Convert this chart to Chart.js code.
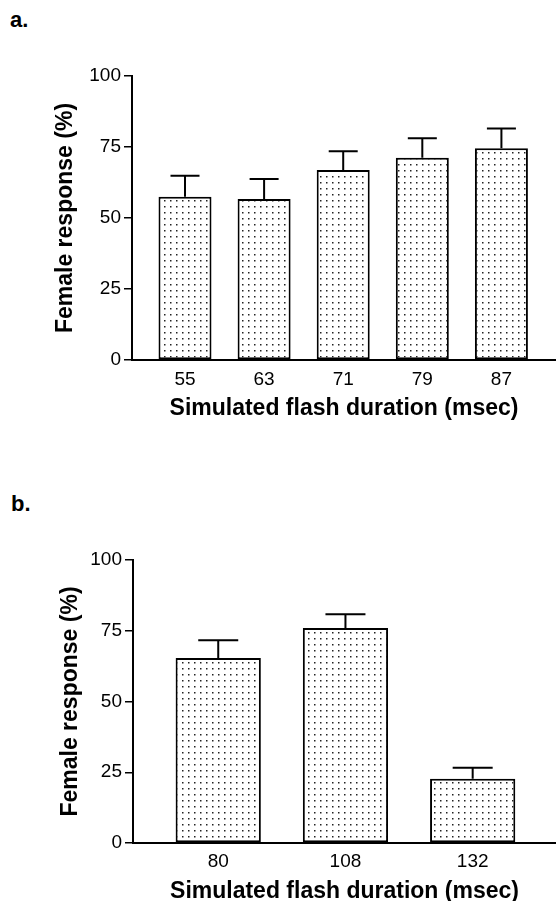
<!DOCTYPE html>
<html>
<head>
<meta charset="utf-8">
<script src="https://cdn.jsdelivr.net/npm/chart.js@4.4.0/dist/chart.umd.min.js"></script>
<style>
  body { margin: 0; background: #fff; font-family: "Liberation Sans", Arial, sans-serif; }
  .panel { position: absolute; left: 0; }
  .tag { position: absolute; font-weight: bold; font-size: 22px; line-height: 22px; color: #000; }
</style>
</head>
<body>
<div class="tag" style="left:10px; top:9px;">a.</div>
<div class="tag" style="left:11px; top:493px;">b.</div>
<canvas id="chartA" class="panel" width="556" height="450" style="top:0"></canvas>
<canvas id="chartB" class="panel" width="556" height="451" style="top:450px"></canvas>
<script>
// panel a
const durationsA = ['55', '63', '71', '79', '87'];
const responseA = [57.5, 56.7, 66.9, 71.2, 74.6];
const semA = [7.4, 7.0, 6.6, 6.9, 6.9];

// panel b
const durationsB = ['80', '108', '132'];
const responseB = [65.4, 76.0, 22.7];
const semB = [6.2, 4.8, 3.9];

const yTicks = [0, 25, 50, 75, 100];

Chart.defaults.font.family = '"Liberation Sans", Arial, Helvetica, sans-serif';
Chart.defaults.color = '#000';

// stippled fill like the printed figure
function dotPattern() {
    const c = document.createElement('canvas');
    c.width = 6;
    c.height = 6;
    const g = c.getContext('2d');
    g.fillStyle = '#fff';
    g.fillRect(0, 0, 6, 6);
    g.fillStyle = '#222';
    g.fillRect(2, 2, 1.5, 1.5);
    return g.createPattern(c, 'repeat');
}

// upper error bars only, drawn over the bars
const errorBars = {
    id: 'errorBars',
    afterDatasetsDraw(chart, args, opts) {
        const { ctx, scales: { x, y } } = chart;
        ctx.save();
        ctx.strokeStyle = '#000';
        ctx.lineWidth = 2;
        chart.data.datasets[0].data.forEach((pt, i) => {
            const px = x.getPixelForValue(pt.x);
            const y0 = y.getPixelForValue(pt.y);
            const y1 = y.getPixelForValue(pt.y + opts.errors[i]);
            ctx.beginPath();
            ctx.moveTo(px, y0);
            ctx.lineTo(px, y1);
            ctx.moveTo(px - opts.cap / 2, y1);
            ctx.lineTo(px + opts.cap / 2, y1);
            ctx.stroke();
        });
        ctx.restore();
    }
};

function makeChart(id, labels, values, errors, cfg) {
    const ctx = document.getElementById(id).getContext('2d');
    return new Chart(ctx, {
        type: 'bar',
        data: {
            datasets: [{
                data: values.map((v, i) => ({ x: i, y: v })),
                backgroundColor: dotPattern(),
                borderColor: '#000',
                borderWidth: 2,
                borderSkipped: false,
                categoryPercentage: 1,
                barPercentage: 0.67
            }]
        },
        plugins: [errorBars],
        options: {
            responsive: false,
            animation: false,
            devicePixelRatio: 1,
            layout: { padding: cfg.padding },
            plugins: {
                legend: { display: false },
                tooltip: { enabled: false },
                errorBars: { errors: errors, cap: cfg.cap }
            },
            scales: {
                x: {
                    type: 'linear',
                    offset: false,
                    min: -0.67,
                    max: cfg.xMax,
                    grid: { display: false, drawTicks: false },
                    border: { display: true, color: '#000', width: 2 },
                    afterBuildTicks: s => { s.ticks = labels.map((_, i) => ({ value: i })); },
                    afterFit: s => { s.height = cfg.xHeight; },
                    ticks: {
                        padding: cfg.xTickPad,
                        font: { size: 19 },
                        callback: v => labels[v]
                    },
                    title: {
                        display: true,
                        text: 'Simulated flash duration (msec)',
                        font: { size: 23, weight: 'bold' },
                        padding: { top: 0, bottom: cfg.xTitlePad }
                    }
                },
                y: {
                    min: 0,
                    max: 100,
                    afterBuildTicks: s => { s.ticks = yTicks.map(v => ({ value: v })); },
                    afterFit: s => { s.width = cfg.yWidth; },
                    grid: {
                        drawOnChartArea: false,
                        drawTicks: true,
                        tickLength: 8,
                        color: '#000',
                        lineWidth: 1.5
                    },
                    border: { display: true, color: '#000', width: 2 },
                    ticks: { padding: 3, font: { size: 19 } },
                    title: {
                        display: true,
                        text: 'Female response (%)',
                        font: { size: 23, weight: 'bold' },
                        padding: 0
                    }
                }
            }
        }
    });
}

makeChart('chartA', durationsA, responseA, semA, {
    padding: { top: 76, left: 52, right: 0, bottom: 28 },
    yWidth: 80, xHeight: 62, xMax: 4.69, xTickPad: 8, xTitlePad: 0, cap: 29
});

makeChart('chartB', durationsB, responseB, semB, {
    padding: { top: 110, left: 57, right: 0, bottom: 0 },
    yWidth: 76, xHeight: 58, xMax: 2.655, xTickPad: 7, xTitlePad: -4, cap: 40
});
</script>
</body>
</html>
